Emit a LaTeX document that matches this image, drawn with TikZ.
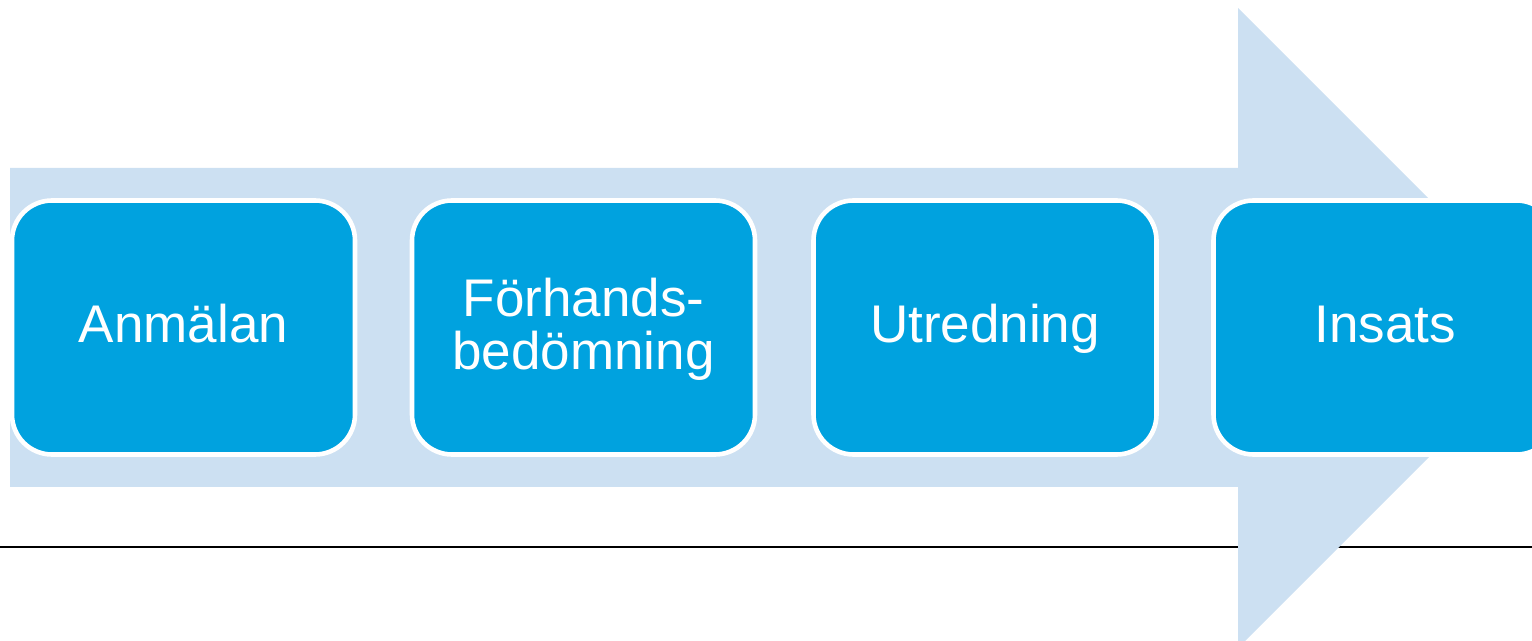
\documentclass[tikz,border=0pt]{standalone}
\usepackage{fontspec}
\setmainfont{Liberation Sans}
\definecolor{arrowblue}{RGB}{204,224,242}
\definecolor{stepblue}{RGB}{0,162,223}
\newcommand{\stepup}{\rule{0pt}{26pt}}
\newcommand{\stepdown}{\rule[-10.5pt]{0pt}{0pt}}
\tikzset{stepbox/.style={draw=white, line width=2.3pt, fill=stepblue, rounded corners=20pt,
  minimum width=171.5pt, minimum height=127pt, inner sep=0pt, align=center, text=white,
  font=\fontsize{26.5}{26.5}\selectfont}}

\begin{document}
\begin{tikzpicture}[x=0.5pt,y=0.5pt,yscale=-1,xscale=1]
\useasboundingbox (0,0) rectangle (1532,641);
\clip (0,0) rectangle (1532,641);

%Straight Lines
\draw [line width=0.75pt] (0,547) -- (1532,547) ;
%Shape: Right Arrow
\fill [arrowblue] (10,168) -- (1238,168) -- (1238,8) -- (1558,328) -- (1238,648) -- (1238,487) -- (10,487) -- cycle ;

% Text Node
\node [stepbox] (anmalan) at (183.5,327.5) {\stepup Anmälan\stepdown};
% Text Node
\node [stepbox] (forhand) at (583.5,327.5) {\stepup Förhands-\\bedömning\stepdown};
% Text Node
\node [stepbox] (utredning) at (985,327.5) {\stepup Utredning\stepdown};
% Text Node
\node [stepbox] (insats) at (1385,327.5) {\stepup Insats\stepdown};

\end{tikzpicture}
\end{document}
